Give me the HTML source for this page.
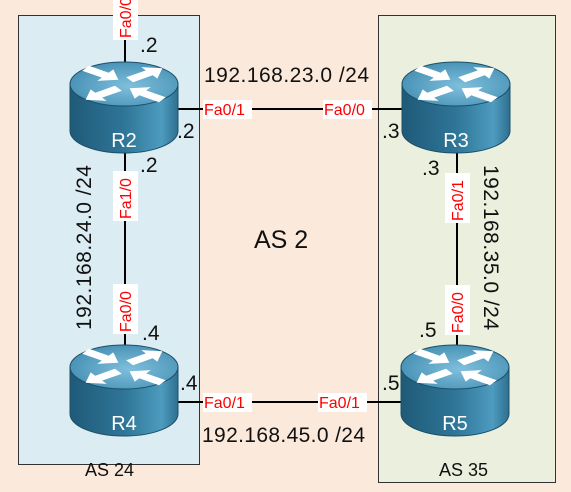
<!DOCTYPE html>
<html><head><meta charset="utf-8"><style>
html,body{margin:0;padding:0;background:#fbe9dc;}
svg{display:block;font-family:"Liberation Sans",sans-serif;}
.n{font-size:21px;fill:#111;}
.r{font-size:16px;fill:#f00;}
.lb{fill:#fff;}
</style></head><body>
<svg width="571" height="492" viewBox="0 0 571 492" xmlns="http://www.w3.org/2000/svg">
<defs>
<linearGradient id="body" x1="0" x2="1" y1="0" y2="0">
<stop offset="0" stop-color="#1f5a78"/><stop offset="0.5" stop-color="#2f7597"/><stop offset="0.85" stop-color="#4d9bbf"/><stop offset="1" stop-color="#2e6f8e"/>
</linearGradient>
<radialGradient id="top" cx="0.55" cy="0.55" r="0.7">
<stop offset="0" stop-color="#7fbfdc"/><stop offset="1" stop-color="#3c88ad"/>
</radialGradient>
<polygon id="ar" points="-20,-6 4,-6 4,-14 20,0 4,14 4,6 -20,6" fill="#fff"/>
<g id="rt">
<path d="M-54 0 L-54 47 A54 22 0 0 0 54 47 L54 0 Z" fill="url(#body)" stroke="#1d4f68" stroke-width="1"/>
<ellipse cx="0" cy="0" rx="54" ry="22" fill="url(#top)" stroke="#1d4f68" stroke-width="1"/>
<g transform="scale(1,0.5)">
<use href="#ar" transform="translate(-22,-20) rotate(35)"/>
<use href="#ar" transform="translate(22,-20) rotate(-35)"/>
<use href="#ar" transform="translate(-22,20) rotate(145)"/>
<use href="#ar" transform="translate(22,20) rotate(-145)"/>
</g>
</g>
</defs>
<rect x="18.5" y="15.5" width="181" height="449" fill="#dcecf3" stroke="#333" stroke-width="1"/>
<rect x="378.5" y="15.5" width="177" height="467" fill="#eaf0dd" stroke="#333" stroke-width="1"/>
<g stroke="#000" stroke-width="2">
<line x1="125" y1="0" x2="125" y2="70"/>
<line x1="125" y1="140" x2="125" y2="350"/>
<line x1="178" y1="109" x2="404" y2="109"/>
<line x1="457" y1="140" x2="457" y2="350"/>
<line x1="178" y1="402" x2="404" y2="402"/>
</g>
<use href="#rt" x="124" y="84"/>
<use href="#rt" x="456" y="84"/>
<use href="#rt" x="124" y="367"/>
<use href="#rt" x="455" y="367"/>
<g font-size="20" fill="#fff" text-anchor="middle">
<text x="124" y="147">R2</text><text x="456" y="147">R3</text>
<text x="124" y="430">R4</text><text x="455" y="430">R5</text>
</g>
<rect class="lb" x="113" y="0" width="25" height="40"/>
<text class="r" transform="translate(131,38) rotate(-90)">Fa0/0</text>
<rect class="lb" x="203" y="100" width="49" height="19"/><text class="r" x="204" y="115">Fa0/1</text>
<rect class="lb" x="323" y="100" width="49" height="19"/><text class="r" x="324" y="115">Fa0/0</text>
<rect class="lb" x="203" y="393" width="49" height="19"/><text class="r" x="204" y="408">Fa0/1</text>
<rect class="lb" x="318" y="393" width="49" height="19"/><text class="r" x="319" y="408">Fa0/1</text>
<rect class="lb" x="113" y="171" width="25" height="50"/><text class="r" transform="translate(131,219) rotate(-90)">Fa1/0</text>
<rect class="lb" x="113" y="284" width="25" height="50"/><text class="r" transform="translate(131,332) rotate(-90)">Fa0/0</text>
<rect class="lb" x="445" y="173" width="25" height="50"/><text class="r" transform="translate(463,221) rotate(-90)">Fa0/1</text>
<rect class="lb" x="445" y="285" width="25" height="50"/><text class="r" transform="translate(463,333) rotate(-90)">Fa0/0</text>
<g class="n">
<text x="140" y="52">.2</text>
<text x="177" y="138">.2</text>
<text x="140" y="172">.2</text>
<text x="142" y="340">.4</text>
<text x="180" y="390">.4</text>
<text x="382" y="138">.3</text>
<text x="422" y="175">.3</text>
<text x="419" y="337">.5</text>
<text x="382" y="390">.5</text>
<text x="204" y="82" textLength="165">192.168.23.0 /24</text>
<text x="202" y="442" textLength="163">192.168.45.0 /24</text>
<text transform="translate(91,330) rotate(-90)" textLength="165">192.168.24.0 /24</text>
<text transform="translate(484,165) rotate(90)" textLength="165">192.168.35.0 /24</text>
<text x="85" y="476" font-size="18">AS 24</text>
<text x="439" y="476" font-size="18">AS 35</text>
<text x="254" y="248" font-size="25">AS 2</text>
</g>
</svg>
</body></html>
